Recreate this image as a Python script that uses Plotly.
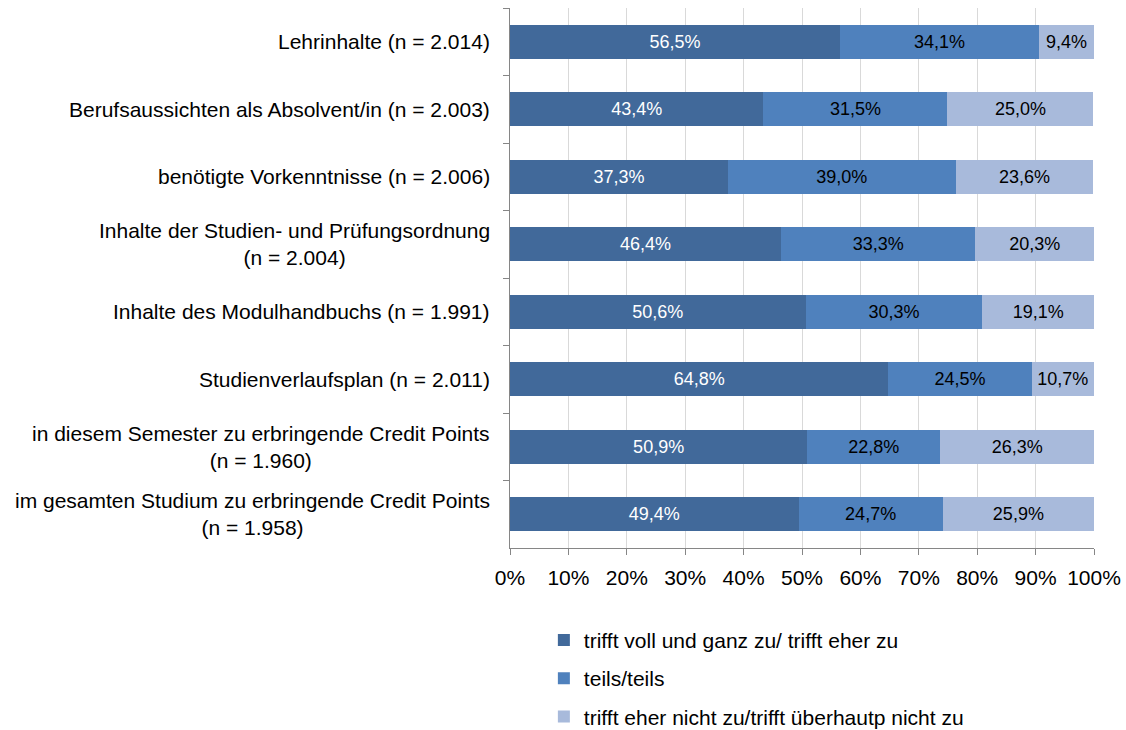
import plotly.graph_objects as go

categories = [
    "Lehrinhalte (n = 2.014)",
    "Berufsaussichten als Absolvent/in (n = 2.003)",
    "benötigte Vorkenntnisse (n = 2.006)",
    "Inhalte der Studien- und Prüfungsordnung<br>(n = 2.004)",
    "Inhalte des Modulhandbuchs (n = 1.991)",
    "Studienverlaufsplan (n = 2.011)",
    "in diesem Semester zu erbringende Credit Points<br>(n = 1.960)",
    "im gesamten Studium zu erbringende Credit Points<br>(n = 1.958)",
]
series_names = [
    "trifft voll und ganz zu/ trifft eher zu",
    "teils/teils",
    "trifft eher nicht zu/trifft überhautp nicht zu",
]
agree = [56.5, 43.4, 37.3, 46.4, 50.6, 64.8, 50.9, 49.4]
neutral = [34.1, 31.5, 39.0, 33.3, 30.3, 24.5, 22.8, 24.7]
disagree = [9.4, 25.0, 23.6, 20.3, 19.1, 10.7, 26.3, 25.9]
x_ticks = list(range(0, 101, 10))
x_tick_labels = [f"{v}%" for v in x_ticks]

colors = ["#41699a", "#4f81bd", "#a8badb"]
text_colors = ["#ffffff", "#000000", "#000000"]
FONT = "Liberation Sans, Arial, sans-serif"

fig = go.Figure()
for i, (name, vals) in enumerate(zip(series_names, [agree, neutral, disagree])):
    fig.add_trace(go.Bar(
        y=categories, x=vals, name=name, orientation="h",
        marker=dict(color=colors[i], line=dict(width=0)),
        texttemplate="%{x:.1f}%", textposition="inside",
        insidetextanchor="middle", constraintext="none",
        textfont=dict(color=text_colors[i], size=18, family=FONT),
        legendgroup=f"g{i}",
        hoverinfo="skip",
    ))

for c in categories:
    fig.add_annotation(
        x=-0.031, xref="paper", y=c, yref="y", text=c,
        xanchor="right", yanchor="middle", align="center",
        showarrow=False, font=dict(size=21, color="#000000", family=FONT),
    )

fig.update_layout(
    width=1126, height=730,
    margin=dict(l=510, r=32, t=8, b=182, autoexpand=False),
    barmode="stack", bargap=0.496,
    separators=",.",
    plot_bgcolor="#ffffff", paper_bgcolor="#ffffff",
    font=dict(family=FONT, size=21, color="#000000"),
    uniformtext=dict(mode="show", minsize=18),
    showlegend=True,
    legend=dict(
        x=0.058, y=-0.133, xanchor="left", yanchor="top",
        orientation="v", traceorder="grouped", tracegroupgap=8,
        font=dict(size=21, family=FONT, color="#000000"),
        itemwidth=30, maxheight=300,
    ),
    xaxis=dict(
        range=[0, 100], tickmode="array", tickvals=x_ticks, ticktext=x_tick_labels,
        showgrid=True, gridcolor="#d9d9d9", gridwidth=1,
        showline=True, linecolor="#868686", linewidth=1,
        ticks="outside", ticklen=6, tickcolor="#868686",
        ticklabelstandoff=5,
        zeroline=False, tickfont=dict(size=21, family=FONT),
    ),
    yaxis=dict(
        categoryorder="array", categoryarray=categories,
        autorange="reversed",
        showticklabels=False,
        showline=True, linecolor="#868686", linewidth=1,
        ticks="outside", ticklen=6, tickcolor="#868686",
        tickson="boundaries", showgrid=False, zeroline=False,
    ),
)

fig.write_html(
    "out.html",
    config={"displayModeBar": False},
    post_script="document.body.style.margin='0';document.body.style.overflow='hidden';",
)
